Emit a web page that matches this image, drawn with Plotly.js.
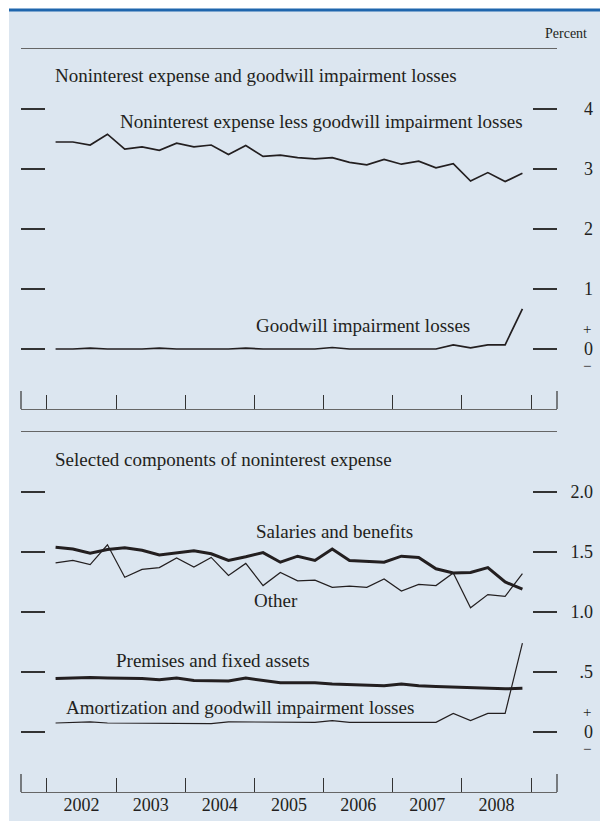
<!DOCTYPE html>
<html>
<head>
<meta charset="utf-8">
<script src="https://cdn.plot.ly/plotly-3.0.1.min.js"></script>
<style>html,body{margin:0;padding:0;background:#fff;}#chart{width:600px;height:821px;}</style>
</head>
<body>
<div id="chart"></div>
<script>
// ---- Data (quarterly, percent) ----
const quarters = ['2002Q1','2002Q2','2002Q3','2002Q4','2003Q1','2003Q2','2003Q3','2003Q4',
  '2004Q1','2004Q2','2004Q3','2004Q4','2005Q1','2005Q2','2005Q3','2005Q4',
  '2006Q1','2006Q2','2006Q3','2006Q4','2007Q1','2007Q2','2007Q3','2007Q4',
  '2008Q1','2008Q2','2008Q3','2008Q4'];
const nonintLessGoodwill = [3.45,3.45,3.40,3.58,3.33,3.37,3.31,3.43,3.37,3.40,3.24,3.39,3.21,3.23,3.19,3.17,3.19,3.11,3.07,3.16,3.08,3.13,3.02,3.09,2.80,2.94,2.79,2.93];
const goodwillLosses = [0,0,0.015,0,0,0,0.015,0,0,0,0,0.015,0,0,0,0,0.025,0,0,0,0,0,0,0.07,0.02,0.07,0.07,0.67];
const salaries = [1.54,1.525,1.49,1.52,1.535,1.515,1.475,1.49,1.51,1.485,1.43,1.46,1.495,1.415,1.465,1.43,1.525,1.43,1.42,1.415,1.465,1.455,1.36,1.325,1.33,1.37,1.25,1.19];
const other = [1.41,1.43,1.395,1.56,1.29,1.355,1.37,1.45,1.375,1.455,1.305,1.405,1.22,1.33,1.26,1.265,1.205,1.215,1.205,1.275,1.175,1.23,1.22,1.325,1.035,1.145,1.13,1.32];
const premises = [0.445,0.45,0.455,0.45,0.45,0.445,0.435,0.45,0.43,0.43,0.425,0.45,0.43,0.41,0.41,0.41,0.40,0.395,0.385,0.385,0.40,0.385,0.38,0.375,0.37,0.365,0.36,0.365];
const amortization = [0.075,0.08,0.085,0.075,0.075,0.075,0.07,0.075,0.075,0.07,0.085,0.085,0.08,0.08,0.08,0.08,0.095,0.08,0.08,0.08,0.075,0.075,0.08,0.155,0.095,0.155,0.155,0.74];

const years = [2002,2003,2004,2005,2006,2007,2008];
const yearLabels = ['2002','2003','2004','2005','2006','2007','2008'];
const topTicks = [0,1,2,3,4];
const topTickText = ['0','1','2','3','4'];
const botTicks = [0,0.5,1,1.5,2];
const botTickText = ['0','.5','1.0','1.5','2.0'];

// quarter label -> decimal year at mid-quarter
const xq = quarters.map(q => +q.slice(0,4) + (+q.slice(5) - 0.5) / 4);

// ---- Layout helpers ----
const W = 600, H = 821;
const px = v => v / W;
const py = v => 1 - v / H;
const INK = '#231f20';
const FONT = 'Liberation Serif, Times New Roman, serif';
const xRange = [2001.625, 2009.375];

const line = (y, name, xa, ya, w) => ({
  type: 'scatter', mode: 'lines', x: xq, y: y, name: name,
  xaxis: xa, yaxis: ya, line: {color: INK, width: w}, hoverinfo: 'skip'
});
// empty helper traces so that the label-only overlay axes get drawn
const helper = (xa, ya) => ({type: 'scatter', mode: 'lines', x: [null], y: [null],
  xaxis: xa, yaxis: ya, hoverinfo: 'skip', showlegend: false});

const traces = [
  line(nonintLessGoodwill, 'Noninterest expense less goodwill impairment losses', 'x', 'y', 1.7),
  line(goodwillLosses, 'Goodwill impairment losses', 'x', 'y', 1.7),
  line(other, 'Other', 'x2', 'y2', 1.2),
  line(salaries, 'Salaries and benefits', 'x2', 'y2', 3),
  line(amortization, 'Amortization and goodwill impairment losses', 'x2', 'y2', 1.2),
  line(premises, 'Premises and fixed assets', 'x2', 'y2', 3),
  helper('x', 'y3'), helper('x2', 'y4'), helper('x3', 'y2')
];

const xBase = {
  range: xRange, tickmode: 'array', tickvals: years.concat([2009]),
  ticks: 'inside', ticklen: 14, tickwidth: 1, tickcolor: '#333',
  showticklabels: false, showline: true, mirror: true, linecolor: '#666', linewidth: 1.2,
  showgrid: false, zeroline: false, fixedrange: true
};
const yBase = {
  tickmode: 'array', ticks: 'inside', ticklen: 24, tickwidth: 1.2, tickcolor: '#333',
  mirror: 'ticks', showline: false, showticklabels: false, showgrid: false, zeroline: false, fixedrange: true
};
const yLab = {
  side: 'left', anchor: 'free', position: px(593),
  ticks: '', showline: false, showgrid: false, zeroline: false, tickmode: 'array',
  tickfont: {family: FONT, size: 18, color: INK}, fixedrange: true
};

const dom1 = [py(409), py(49)];
const dom2 = [py(792), py(432)];

const ann = (text, x, y, opts) => Object.assign({
  text: text, xref: 'paper', yref: 'paper', x: px(x), y: py(y),
  xanchor: 'center', yanchor: 'middle', showarrow: false,
  font: {family: FONT, size: 19, color: INK}
}, opts || {});
const sign = (text, ya, shift) => ({text: text, xref: 'paper', yref: ya, x: px(587), y: 0,
  yshift: shift, xanchor: 'center', yanchor: 'middle', showarrow: false,
  font: {family: FONT, size: 15, color: INK}});

const layout = {
  width: W, height: H, margin: {l: 0, r: 0, t: 0, b: 0},
  paper_bgcolor: '#ffffff', plot_bgcolor: 'rgba(0,0,0,0)', showlegend: false,
  xaxis: Object.assign({}, xBase, {domain: [px(21), px(557)], anchor: 'y'}),
  xaxis2: Object.assign({}, xBase, {domain: [px(21), px(557)], anchor: 'y2'}),
  xaxis3: {overlaying: 'x2', anchor: 'y2', range: xRange, tickmode: 'array',
    tickvals: years.map(y => y + 0.5), ticktext: yearLabels, ticks: '', showline: false,
    showgrid: false, zeroline: false, tickfont: {family: FONT, size: 18, color: INK}, fixedrange: true},
  yaxis: Object.assign({}, yBase, {domain: dom1, range: [-1, 5], tickvals: topTicks, anchor: 'x'}),
  yaxis2: Object.assign({}, yBase, {domain: dom2, range: [-0.5, 2.5], tickvals: botTicks, anchor: 'x2'}),
  yaxis3: Object.assign({}, yLab, {overlaying: 'y', range: [-1, 5], tickvals: topTicks, ticktext: topTickText}),
  yaxis4: Object.assign({}, yLab, {overlaying: 'y2', range: [-0.5, 2.5], tickvals: botTicks, ticktext: botTickText}),
  shapes: [
    {type: 'rect', xref: 'paper', yref: 'paper', x0: px(9), x1: 1, y0: 0, y1: py(10),
      fillcolor: '#dce6f0', line: {width: 0}, layer: 'below'},
    {type: 'line', xref: 'paper', yref: 'paper', x0: px(9), x1: 1, y0: py(10), y1: py(10),
      line: {color: '#1f66ad', width: 3}},
    // longer end ticks at both ends of each time axis
    {type: 'line', xref: 'x domain', yref: 'y domain', x0: 0, x1: 0, y0: 0, y1: 18/360, line: {color: '#333', width: 1.2}},
    {type: 'line', xref: 'x domain', yref: 'y domain', x0: 1, x1: 1, y0: 0, y1: 18/360, line: {color: '#333', width: 1.2}},
    {type: 'line', xref: 'x2 domain', yref: 'y2 domain', x0: 0, x1: 0, y0: 0, y1: 18/360, line: {color: '#333', width: 1.2}},
    {type: 'line', xref: 'x2 domain', yref: 'y2 domain', x0: 1, x1: 1, y0: 0, y1: 18/360, line: {color: '#333', width: 1.2}}
  ],
  annotations: [
    ann('Percent', 589, 33, {xanchor: 'right', font: {family: FONT, size: 14, color: INK}}),
    ann('Noninterest expense and goodwill impairment losses', 53, 76, {xanchor: 'left'}),
    ann('Noninterest expense less goodwill impairment losses', 321, 121),
    ann('Goodwill impairment losses', 363, 325),
    ann('Selected components of noninterest expense', 53, 460, {xanchor: 'left'}),
    ann('Salaries and benefits', 334, 531),
    ann('Other', 276, 600),
    ann('Premises and fixed assets', 213, 660),
    ann('Amortization and goodwill impairment losses', 240, 707),
    // +/- signs around the zero labels
    sign('+', 'y', 20), sign('\u2212', 'y', -17),
    sign('+', 'y2', 20), sign('\u2212', 'y2', -17)
  ]
};

Plotly.newPlot('chart', traces, layout, {displayModeBar: false, staticPlot: true});
</script>
</body>
</html>
